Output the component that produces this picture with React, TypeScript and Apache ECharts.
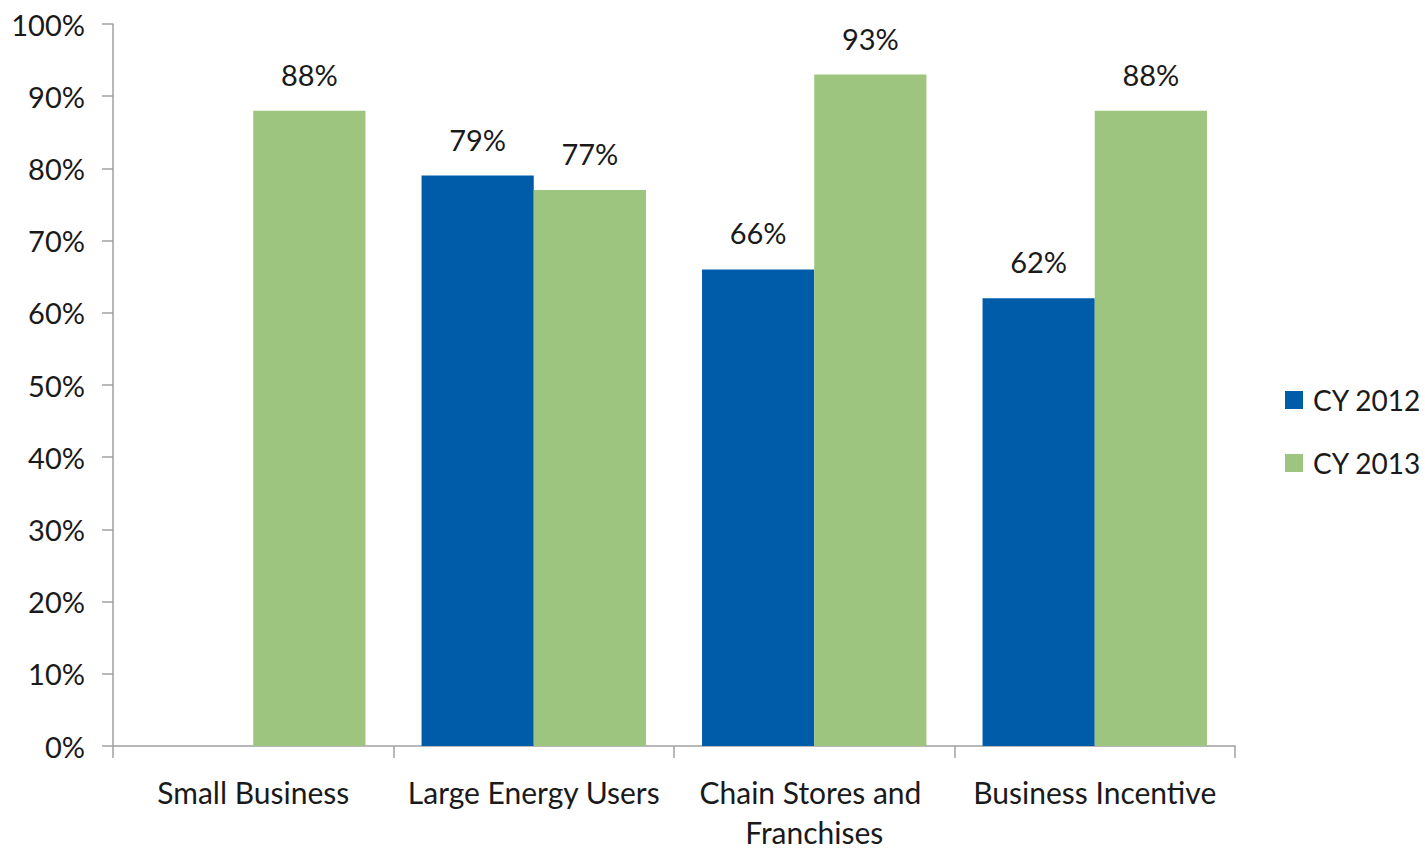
import React, { useEffect, useRef } from "react";
import * as echarts from "echarts";

const categories = ["Small Business", "Large Energy Users", "Chain Stores and Franchises", "Business Incentive"];
const cy2012 = [null, 79, 66, 62];
const cy2013 = [88, 77, 93, 88];
const seriesNames = ["CY 2012", "CY 2013"];
const colors = ["#005ca9", "#9dc57f"];

const FONT = "Lato";
const TEXT = "#1a1a1a";

export default function App() {
  const ref = useRef<HTMLDivElement>(null);
  useEffect(() => {
    const chart = echarts.init(ref.current!, null, { renderer: "svg" });
    const label = {
      show: true,
      position: "top",
      distance: 22,
      formatter: "{c}%",
      fontFamily: FONT,
      fontSize: 29,
      color: TEXT,
    };
    chart.setOption({
      animation: false,
      backgroundColor: "#ffffff",
      grid: { left: 113, right: 190, top: 24, bottom: 102, containLabel: false },
      legend: {
        orient: "vertical",
        left: 1285,
        top: 385,
        padding: 0,
        itemWidth: 18,
        itemHeight: 18,
        itemGap: 33,
        icon: "rect",
        textStyle: { fontFamily: FONT, fontSize: 28, color: TEXT, lineHeight: 30, padding: [0, 0, 0, 5] },
        data: seriesNames,
      },
      xAxis: {
        type: "category",
        data: categories,
        axisLine: { lineStyle: { color: "#a0a0a0", width: 1.5 } },
        axisTick: { show: true, length: 12, alignWithLabel: false, lineStyle: { color: "#a0a0a0", width: 1.5 } },
        axisLabel: {
          interval: 0,
          margin: 26,
          fontFamily: FONT,
          fontSize: 30,
          color: TEXT,
          lineHeight: 40,
          width: 270,
          overflow: "break",
        },
      },
      yAxis: {
        type: "value",
        min: 0,
        max: 100,
        interval: 10,
        splitLine: { show: false },
        axisLine: { show: true, lineStyle: { color: "#a0a0a0", width: 1.5 } },
        axisTick: { show: true, length: 11, lineStyle: { color: "#a0a0a0", width: 1.5 } },
        axisLabel: { formatter: "{value}%", margin: 28, fontFamily: FONT, fontSize: 29, color: TEXT },
      },
      series: [
        {
          name: seriesNames[0],
          type: "bar",
          data: cy2012,
          itemStyle: { color: colors[0] },
          barGap: "0%",
          barCategoryGap: "20%",
          label,
        },
        {
          name: seriesNames[1],
          type: "bar",
          data: cy2013,
          itemStyle: { color: colors[1] },
          barGap: "0%",
          barCategoryGap: "20%",
          label,
        },
      ],
    });
    return () => chart.dispose();
  }, []);
  return <div ref={ref} style={{ position: "fixed", left: 0, top: 0, width: 1425, height: 852 }} />;
}
